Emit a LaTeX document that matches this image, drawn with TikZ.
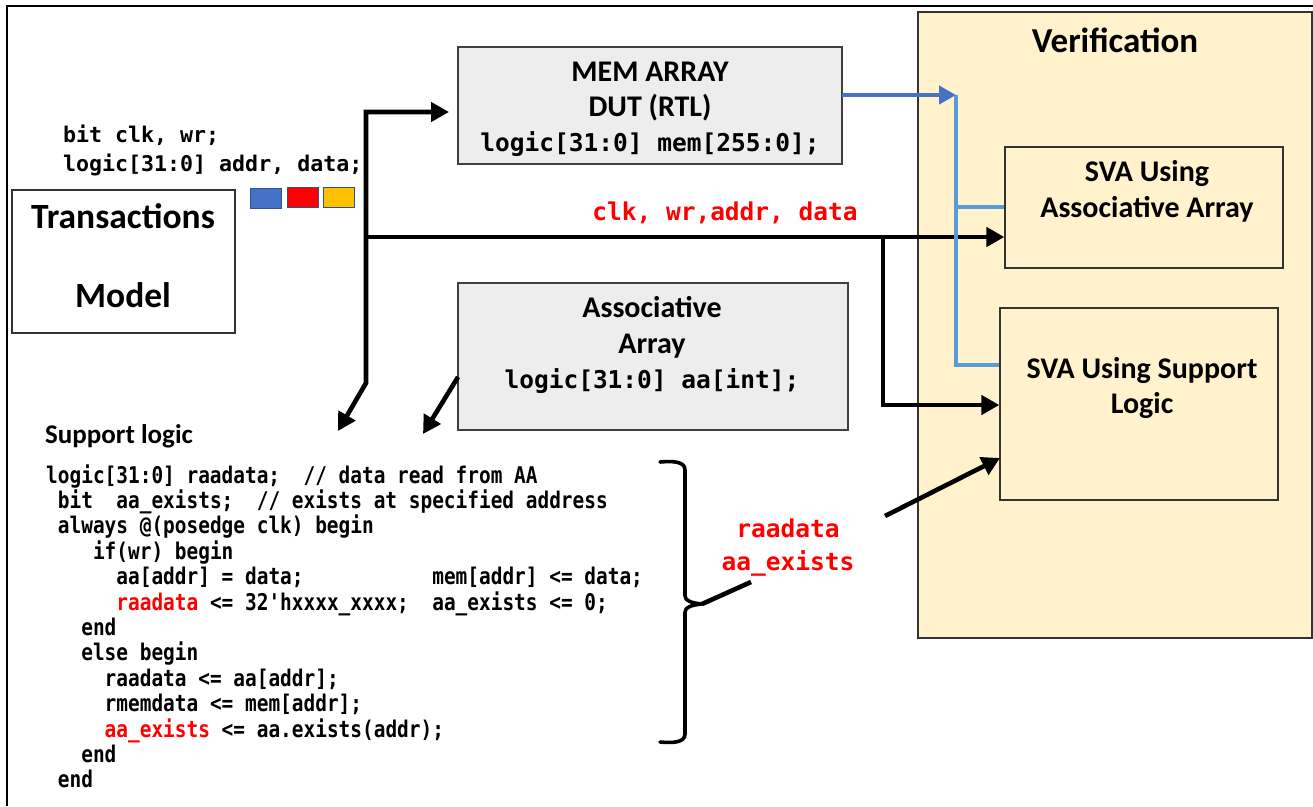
\documentclass[tikz,border=0pt]{standalone}
\usepackage{fontspec}
\setmainfont{Carlito}
\setmonofont{DejaVu Sans Mono}[FakeStretch=0.845]
\newfontfamily\widemono{DejaVu Sans Mono}
\usetikzlibrary{arrows.meta}

\definecolor{boxgray}{HTML}{EDEDED}
\definecolor{verfill}{HTML}{FFF2CC}
\definecolor{darkblue}{HTML}{4472C4}
\definecolor{lightblue}{HTML}{5B9BD5}
\definecolor{sqred}{HTML}{FF0000}
\definecolor{sqyellow}{HTML}{FFC000}
\definecolor{sqedge}{HTML}{2F528F}
\definecolor{sigred}{HTML}{FF0000}

\tikzset{
  frameline/.style={line width=2pt, black},
  plainbox/.style={draw=black!80, line width=1.3pt, fill=white, inner sep=0pt},
  graybox/.style={draw=black!75, line width=1.3pt, fill=boxgray, inner sep=0pt},
  verbox/.style={draw=black!80, line width=1.3pt, fill=verfill, inner sep=0pt},
  title/.style={anchor=base, inner sep=0pt, font=\bfseries\fontsize{30}{36}\selectfont},
  bigtitle/.style={anchor=base, inner sep=0pt, font=\bfseries\fontsize{35.5}{42}\selectfont},
  widecode/.style={anchor=base, inner sep=0pt, font=\widemono\bfseries\fontsize{24.5}{29}\selectfont},
  topcode/.style={anchor=base west, inner sep=0pt, font=\widemono\bfseries\fontsize{21.6}{26}\selectfont},
  codeline/.style={anchor=base west, inner sep=0pt, font=\ttfamily\bfseries\frenchspacing\fontsize{23}{27}\selectfont},
  square/.style={draw=sqedge, line width=1pt, minimum width=31pt, minimum height=20pt, inner sep=0pt},
  bigarrow/.style={line width=4.6pt, black, -{Triangle[length=18pt,width=19pt]}},
  bigline/.style={line width=4.6pt, black},
  bluearrow/.style={line width=4.2pt, darkblue, -{Triangle[length=17pt,width=18pt]}},
  blueline/.style={line width=3.2pt, lightblue},
  bracestroke/.style={line width=3.6pt, black, line join=round, line cap=round},
}

\begin{document}
\begin{tikzpicture}[x=1pt, y=-1pt]
\useasboundingbox (0,0) rectangle (1313,806);

% open outer frame
\coordinate (frameBL) at (7,806);
\coordinate (frameTL) at (7,6);
\coordinate (frameTR) at (1313,6);
\draw[frameline] (frameBL) -- (frameTL) -- (frameTR);

% verification area
\node[verbox, minimum width=394pt, minimum height=626pt] (ver) at (1115,325) {};
\node[title, font=\bfseries\fontsize{35}{42}\selectfont] (vertitle) at (1115,52) {Verification};
\node[verbox, minimum width=278pt, minimum height=121pt] (svaA) at (1144,207.5) {};
\node[title] (svaAt1) at (1147,181) {SVA Using};
\node[title] (svaAt2) at (1147,217) {Associative Array};
\node[verbox, minimum width=278pt, minimum height=192pt] (svaS) at (1139,404) {};
\node[title] (svaSt1) at (1142,378) {SVA Using Support};
\node[title] (svaSt2) at (1142,413) {Logic};

% transactions model
\node[plainbox, minimum width=223pt, minimum height=143pt] (tm) at (123.5,261.5) {};
\node[bigtitle] (tmt1) at (123,228) {Transactions};
\node[bigtitle] (tmt2) at (123,307) {Model};
\node[topcode] (sig1) at (63,142) {bit clk, wr;};
\node[topcode] (sig2) at (63,171) {logic[31:0] addr, data;};
\node[square, fill=darkblue] (sqA) at (266,198.5) {};
\node[square, fill=sqred] (sqB) at (302.5,197.5) {};
\node[square, fill=sqyellow] (sqC) at (338.5,197.5) {};

% memory array (DUT)
\node[graybox, minimum width=384pt, minimum height=117pt] (mem) at (650,105.5) {};
\node[title] (memt1) at (650,81) {MEM ARRAY};
\node[title] (memt2) at (650,116) {DUT (RTL)};
\node[widecode] (memt3) at (650,151) {logic[31:0] mem[255:0];};

% associative array
\node[graybox, minimum width=390pt, minimum height=147pt] (aa) at (653,356.5) {};
\node[title] (aat1) at (652,317) {Associative};
\node[title] (aat2) at (652,353) {Array};
\node[widecode] (aat3) at (652,388) {logic[31:0] aa[int];};

% signal bus label
\node[widecode, text=sigred] (buslbl) at (725,220) {clk, wr,addr, data};

% routing points of the stimulus bus
\coordinate (trunkTop) at (366,112);
\coordinate (trunkMid) at (366,237);
\coordinate (trunkBot) at (366,383);
\coordinate (memIn) at (449,112);
\coordinate (slIn1) at (338,431);
\coordinate (branch) at (883,237);
\coordinate (branchBot) at (883,405);
\coordinate (aaOut) at (458,377);
\coordinate (slIn2) at (423,434);

\draw[line width=4.6pt, black, {Triangle[length=18pt,width=19pt]}-{Triangle[length=18pt,width=19pt]}]
  (slIn1) -- (trunkBot) -- (trunkTop) -- (memIn);
\draw[bigarrow] (trunkMid) -- (svaA.west |- trunkMid);
\draw[bigarrow] (branch) -- (branchBot) -- (svaS.west |- branchBot);
\draw[bigarrow] (aaOut) -- (slIn2);

% DUT outputs into the checkers
\coordinate (memOut) at (842,95);
\coordinate (busTop) at (956,95);
\coordinate (busA) at (956,207);
\coordinate (busBot) at (956,365);
\draw[blueline] (busTop) -- (busBot) -- (svaS.west |- busBot);
\draw[blueline] (busA) -- (svaA.west |- busA);
\draw[bluearrow] (memOut) -- (busTop);

% support logic code
\node[anchor=base west, inner sep=0pt, font=\bfseries\fontsize{27}{32}\selectfont] (sltitle) at (45,443) {Support logic};
\node[codeline] (c1) at (46,483) {logic[31:0] raadata;~~// data read from AA};
\node[codeline] (c2) at (46,508.4) {~bit~~aa\_exists;~~// exists at specified address};
\node[codeline] (c3) at (46,533.8) {~always @(posedge clk) begin};
\node[codeline] (c4) at (46,559.2) {~~~~if(wr) begin};
\node[codeline] (c5) at (46,584.6) {~~~~~~aa[addr] = data;~~~~~~~~~~~mem[addr] <= data;};
\node[codeline] (c6) at (46,610) {~~~~~~\textcolor{sigred}{raadata} <= 32'hxxxx\_xxxx;~~aa\_exists <= 0;};
\node[codeline] (c7) at (46,635.4) {~~~end};
\node[codeline] (c8) at (46,660.8) {~~~else begin};
\node[codeline] (c9) at (46,686.2) {~~~~~raadata <= aa[addr];};
\node[codeline] (c10) at (46,711.6) {~~~~~rmemdata <= mem[addr];};
\node[codeline] (c11) at (46,737) {~~~~~\textcolor{sigred}{aa\_exists} <= aa.exists(addr);};
\node[codeline] (c12) at (46,762.4) {~~~end};
\node[codeline] (c13) at (46,787.8) {~end};

% brace gathering the support logic outputs
\coordinate (braceTip) at (702,604);
\draw[bracestroke]
  (660,462) .. controls (672,461) and (685,461) .. (685,470)
  -- (685,596) .. controls (685,601) and (692,603) .. (braceTip)
  .. controls (692,605) and (685,607) .. (685,612)
  -- (685,734) .. controls (685,743) and (672,743) .. (660,742);

% outputs of the support logic
\node[widecode, text=sigred] (outl1) at (788,537) {raadata};
\node[widecode, text=sigred] (outl2) at (788,570) {aa\_exists};
\coordinate (gapA) at (751,582);
\coordinate (gapB) at (885,516);
\coordinate (svaSIn) at (1000,458);
\draw[bigline] (braceTip) -- (gapA);
\draw[bigarrow] (gapB) -- (svaSIn);
\end{tikzpicture}
\end{document}
